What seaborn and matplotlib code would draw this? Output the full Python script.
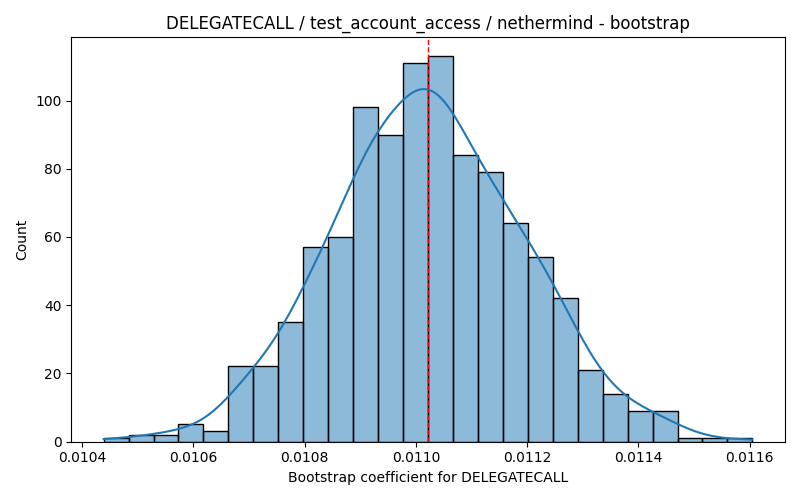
import numpy as np
import pandas as pd
import matplotlib
matplotlib.use("Agg")
import matplotlib.pyplot as plt
import seaborn as sns

# Histogram bins (bootstrap coefficient values) and counts
bin_start = 0.0104389
bin_end = 0.0116047
counts = [1, 2, 2, 5, 3, 22, 22, 35, 57, 60, 98, 90, 111, 113, 84, 79, 64, 54, 42, 21, 14, 9, 9, 1, 1, 1]
ref_value = 0.011021

title = "DELEGATECALL / test_account_access / nethermind - bootstrap"
xlabel = "Bootstrap coefficient for DELEGATECALL"
ylabel = "Count"

edges = np.linspace(bin_start, bin_end, len(counts) + 1)
centers = (edges[:-1] + edges[1:]) / 2
samples = np.repeat(centers, counts)
# the extreme bootstrap samples sit exactly on the outer bin edges
samples[0] = bin_start
samples[-1] = bin_end
df = pd.DataFrame({"coef": samples})

fig, ax = plt.subplots(figsize=(8, 5), dpi=100)
sns.histplot(data=df, x="coef", bins=edges, kde=True, ax=ax, edgecolor="black",
             kde_kws={"bw_adjust": 1.15})
ax.axvline(ref_value, color="red", linestyle="--", linewidth=1)
ax.set_title(title)
ax.set_xlabel(xlabel)
ax.set_ylabel(ylabel)
fig.subplots_adjust(left=0.089, right=0.981, top=0.926, bottom=0.117)
fig.savefig("out.png")
